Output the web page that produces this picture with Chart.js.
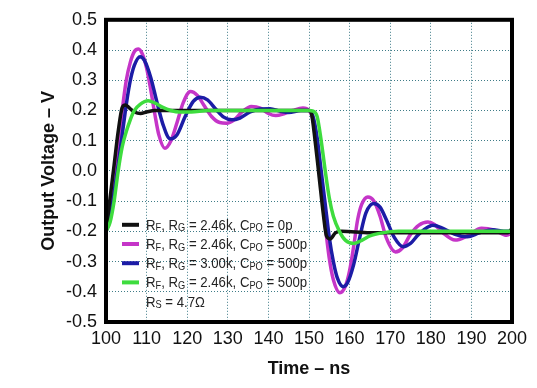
<!DOCTYPE html>
<html>
<head>
<meta charset="utf-8">
<script src="https://cdn.jsdelivr.net/npm/chart.js@4"></script>
<style>
  html, body { margin: 0; padding: 0; background: #fff; }
</style>
</head>
<body>
<canvas id="chart" width="537" height="388"></canvas>
<script>
// axis ticks
const xTicks = [100, 110, 120, 130, 140, 150, 160, 170, 180, 190, 200];
const yTicks = [-0.5, -0.4, -0.3, -0.2, -0.1, 0.0, 0.1, 0.2, 0.3, 0.4, 0.5];

// black: RF, RG = 2.46k, CPO = 0p
const tBlack = [100, 101, 102, 103, 104, 104.8, 106, 107, 108.5, 110, 112, 150, 150.6, 151.5, 152.5, 153.5, 154.3, 155.2, 156.5, 158, 165, 199, 200];
const vBlack = [-0.2, -0.09, 0.02, 0.13, 0.21, 0.218, 0.205, 0.195, 0.19, 0.195, 0.2, 0.2, 0.19, 0.1, -0.02, -0.14, -0.215, -0.225, -0.205, -0.2, -0.205, -0.205, -0.19];

// magenta: RF, RG = 2.46k, CPO = 500p
const tMagenta = [100, 101, 102, 103, 104, 105, 106, 107, 108, 109, 110, 111, 112, 113, 114.5, 116, 117.5, 119, 120.8, 122.5, 124, 126, 128, 129.7, 131.5, 133.5, 135.8, 138, 140, 141.8, 144, 146, 148.5, 150, 151, 152, 153, 154, 155, 156, 157.6, 159, 160, 161, 162, 163, 164.5, 166, 167.5, 169, 171.3, 173, 175, 177, 179.3, 181, 183, 186, 189, 192.5, 195.5, 198.7, 200];
const vMagenta = [-0.2, -0.15, -0.04, 0.07, 0.2, 0.3, 0.36, 0.395, 0.403, 0.385, 0.34, 0.27, 0.19, 0.12, 0.075, 0.1, 0.16, 0.225, 0.263, 0.25, 0.22, 0.18, 0.16, 0.158, 0.168, 0.195, 0.213, 0.208, 0.19, 0.183, 0.19, 0.2, 0.208, 0.2, 0.17, 0.08, -0.05, -0.18, -0.29, -0.36, -0.403, -0.38, -0.33, -0.25, -0.16, -0.11, -0.086, -0.1, -0.15, -0.22, -0.268, -0.255, -0.21, -0.18, -0.169, -0.178, -0.205, -0.229, -0.215, -0.19, -0.195, -0.213, -0.205];

// blue: RF, RG = 3.00k, CPO = 500p
const tBlue = [100, 101, 102, 103, 104, 105, 106, 107, 108.4, 109.5, 111, 112.5, 114, 115.8, 117.5, 119.5, 121.5, 123.2, 125, 127, 129, 131, 133, 135.5, 138, 140.4, 143, 145, 148, 150, 151, 152, 153, 154, 155, 156, 157, 158.4, 159.5, 161, 162.5, 164, 165.9, 167.5, 169, 171, 173.2, 175, 177, 180.5, 183, 186, 189, 192, 195.3, 198, 200];
const vBlue = [-0.2, -0.16, -0.07, 0.02, 0.12, 0.22, 0.3, 0.35, 0.378, 0.365, 0.31, 0.23, 0.155, 0.106, 0.12, 0.18, 0.23, 0.244, 0.235, 0.205, 0.178, 0.169, 0.175, 0.195, 0.205, 0.206, 0.197, 0.193, 0.2, 0.2, 0.18, 0.11, 0.0, -0.11, -0.22, -0.3, -0.355, -0.383, -0.37, -0.31, -0.22, -0.14, -0.108, -0.12, -0.16, -0.22, -0.251, -0.24, -0.21, -0.18, -0.19, -0.21, -0.218, -0.205, -0.195, -0.2, -0.2];

// green: RF, RG = 2.46k, CPO = 500p, RS = 4.7 ohm
const tGreen = [100, 101, 102, 103, 104, 105, 106, 107, 108.4, 110.4, 112, 114, 116, 118, 121, 125, 150, 151, 152, 153, 154, 155, 156, 157.5, 159, 161, 163, 165, 168, 172, 200];
const vGreen = [-0.2, -0.17, -0.1, 0.0, 0.08, 0.13, 0.17, 0.2, 0.22, 0.232, 0.225, 0.21, 0.2, 0.195, 0.195, 0.2, 0.2, 0.198, 0.18, 0.1, 0.0, -0.09, -0.15, -0.2, -0.23, -0.24, -0.23, -0.215, -0.205, -0.2, -0.2];

// legend rows, {..} = subscript
const legendLabels = [
    'R{F}, R{G} = 2.46k, C{PO} = 0p',
    'R{F}, R{G} = 2.46k, C{PO} = 500p',
    'R{F}, R{G} = 3.00k, C{PO} = 500p',
    'R{F}, R{G} = 2.46k, C{PO} = 500p',
    'R{S} = 4.7Ω'
];
const legendColors = ['#111111', '#c535c8', '#1c1ca6', '#3edc3e', null];

function toPoints(ts, vs) {
    return ts.map((t, i) => ({ x: t, y: vs[i] }));
}

function lineSet(label, ts, vs, color, order) {
    return {
        label: label,
        data: toPoints(ts, vs),
        borderColor: color,
        borderWidth: 3.5,
        pointRadius: 0,
        fill: false,
        cubicInterpolationMode: 'monotone',
        order: order
    };
}

// text with subscripts, squeezed a little to match the narrow face
function drawRich(ctx, str, x, y) {
    ctx.save();
    ctx.translate(x, y);
    ctx.scale(0.88, 1);
    ctx.fillStyle = '#222';
    ctx.textBaseline = 'alphabetic';
    ctx.textAlign = 'left';
    let cx = 0;
    str.split(/(\{[^}]*\})/).forEach(part => {
        if (!part) return;
        if (part[0] === '{') {
            const s = part.slice(1, -1);
            ctx.font = '10.5px "Liberation Sans", Arial, sans-serif';
            ctx.fillText(s, cx, 1.5);
            cx += ctx.measureText(s).width;
        } else {
            ctx.font = '15px "Liberation Sans", Arial, sans-serif';
            ctx.fillText(part, cx, 0);
            cx += ctx.measureText(part).width;
        }
    });
    ctx.restore();
}

const framePlugin = {
    id: 'frame',
    beforeDraw(chart) {
        const ctx = chart.ctx;
        ctx.save();
        ctx.fillStyle = '#fff';
        ctx.fillRect(0, 0, chart.width, chart.height);
        ctx.restore();
    },
    afterDatasetsDraw(chart) {
        const ctx = chart.ctx;
        const a = chart.chartArea;
        ctx.save();
        // legend inside the plot
        const lx = a.left + 16;
        let by = a.top + 210;
        legendLabels.forEach((txt, i) => {
            const c = legendColors[i];
            if (c) {
                ctx.strokeStyle = c;
                ctx.lineWidth = 4;
                ctx.beginPath();
                ctx.moveTo(lx, by - 5);
                ctx.lineTo(lx + 17, by - 5);
                ctx.stroke();
            }
            drawRich(ctx, txt, lx + 24, by);
            by += 19.2;
        });
        // heavy black frame
        ctx.strokeStyle = '#000';
        ctx.lineWidth = 4;
        ctx.strokeRect(a.left, a.top, a.right - a.left, a.bottom - a.top);
        ctx.restore();
    }
};

const tickFont = { family: '"Liberation Sans", Arial, sans-serif', size: 18 };
const titleFont = { family: '"Liberation Sans", Arial, sans-serif', size: 18, weight: 'bold' };
const gridOpts = { color: '#3f7c88', lineWidth: 1, drawTicks: false };

new Chart(document.getElementById('chart'), {
    type: 'line',
    data: {
        datasets: [
            lineSet('RF, RG = 2.46k, CPO = 0p', tBlack, vBlack, legendColors[0], 1),
            lineSet('RF, RG = 2.46k, CPO = 500p', tMagenta, vMagenta, legendColors[1], 3),
            lineSet('RF, RG = 3.00k, CPO = 500p', tBlue, vBlue, legendColors[2], 2),
            lineSet('RF, RG = 2.46k, CPO = 500p, RS = 4.7Ω', tGreen, vGreen, legendColors[3], 0)
        ]
    },
    options: {
        responsive: false,
        animation: false,
        layout: { padding: { top: 19, right: 25, bottom: 0, left: 0 } },
        plugins: { legend: { display: false }, tooltip: { enabled: false } },
        scales: {
            x: {
                type: 'linear',
                min: 100,
                max: 200,
                afterBuildTicks: s => { s.ticks = xTicks.map(v => ({ value: v })); },
                afterFit: s => { s.height = 66; },
                ticks: { font: tickFont, color: '#111', padding: 6, maxRotation: 0, callback: v => String(v) },
                grid: gridOpts,
                border: { display: false, dash: [1, 2] },
                title: { display: true, text: 'Time – ns', font: titleFont, color: '#111', padding: { top: 0, bottom: 8 } }
            },
            y: {
                type: 'linear',
                min: -0.5,
                max: 0.5,
                afterBuildTicks: s => { s.ticks = yTicks.map(v => ({ value: v })); },
                afterFit: s => { s.width = 106; },
                ticks: { font: tickFont, color: '#111', padding: 9, callback: v => v.toFixed(1) },
                grid: gridOpts,
                border: { display: false, dash: [1, 2] },
                title: { display: true, text: 'Output Voltage – V', font: titleFont, color: '#111', padding: { top: 38, bottom: 0 } }
            }
        }
    },
    plugins: [framePlugin]
});
</script>
</body>
</html>
